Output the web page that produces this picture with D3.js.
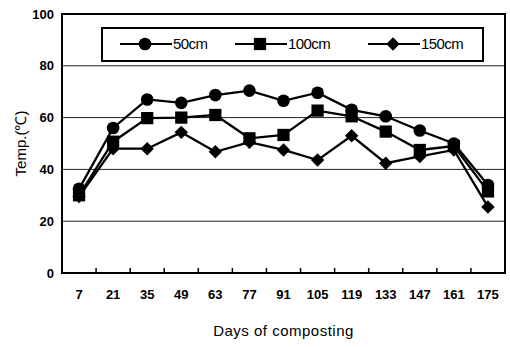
<!DOCTYPE html>
<html>
<head>
<meta charset="utf-8">
<script src="https://cdn.jsdelivr.net/npm/d3@7"></script>
<style>
  body { margin: 0; background: #fff; }
  text { font-family: "Liberation Sans", Arial, sans-serif; fill: #000; }
</style>
</head>
<body>
<svg id="chart" width="510" height="347"></svg>
<script>
// data
const days = [7, 21, 35, 49, 63, 77, 91, 105, 119, 133, 147, 161, 175];
const temp50 = [32.5, 56, 67, 65.7, 68.7, 70.4, 66.5, 69.6, 63, 60.5, 55, 50, 34];
const temp100 = [30, 50.7, 59.8, 60, 61, 52, 53.3, 62.7, 60.5, 54.6, 47.5, 49, 31.5];
const temp150 = [29.5, 48, 48, 54.3, 46.8, 50.5, 47.5, 43.6, 53, 42.4, 45, 47.5, 25.5];
const yTicks = [0, 20, 40, 60, 80, 100];

const series = [
    { name: "50cm", values: temp50, shape: "circle" },
    { name: "100cm", values: temp100, shape: "square" },
    { name: "150cm", values: temp150, shape: "diamond" }
];

const width = 510, height = 347;
const margin = { top: 14, right: 5, bottom: 74, left: 62 };

const svg = d3.select("#chart");

const x = d3.scaleBand()
    .domain(days)
    .range([margin.left, width - margin.right]);

const y = d3.scaleLinear()
    .domain([0, 100])
    .range([height - margin.bottom, margin.top]);

// gridlines
svg.append("g")
    .selectAll("line")
    .data(yTicks.filter(d => d > 0 && d < 100))
    .join("line")
    .attr("x1", margin.left)
    .attr("x2", width - margin.right)
    .attr("y1", d => y(d))
    .attr("y2", d => y(d))
    .attr("stroke", "#222")
    .attr("stroke-width", 1);

// plot frame
svg.append("rect")
    .attr("x", margin.left)
    .attr("y", margin.top)
    .attr("width", width - margin.left - margin.right)
    .attr("height", height - margin.top - margin.bottom)
    .attr("fill", "none")
    .attr("stroke", "#000")
    .attr("stroke-width", 2);

// y axis labels
const yAxis = d3.axisLeft(y).tickValues(yTicks).tickSize(0).tickPadding(8);
svg.append("g")
    .attr("transform", `translate(${margin.left},0)`)
    .call(yAxis)
    .call(g => g.select(".domain").remove())
    .selectAll("text")
    .style("font-size", "13px")
    .style("font-weight", "bold")
    .attr("font-family", null);

// x axis: ticks at band boundaries pointing up
const xAxis = d3.axisBottom(x).tickSize(0).tickPadding(17);
svg.append("g")
    .attr("transform", `translate(0,${height - margin.bottom})`)
    .call(xAxis)
    .call(g => g.select(".domain").remove())
    .selectAll("text")
    .style("font-size", "13px")
    .style("font-weight", "bold")
    .attr("font-family", null);

svg.append("g")
    .selectAll("line")
    .data(days.slice(1))
    .join("line")
    .attr("x1", d => x(d))
    .attr("x2", d => x(d))
    .attr("y1", y(0))
    .attr("y2", y(0) - 5)
    .attr("stroke", "#000")
    .attr("stroke-width", 1.5);

// axis titles
svg.append("text")
    .attr("transform", `translate(26,${(margin.top + height - margin.bottom) / 2}) rotate(-90)`)
    .attr("text-anchor", "middle")
    .style("font-size", "15px")
    .style("fill", "#000")
    .text("Temp.(℃)");

svg.append("text")
    .attr("x", (margin.left + width - margin.right) / 2)
    .attr("y", 336)
    .attr("text-anchor", "middle")
    .style("font-size", "15px")
    .style("fill", "#000")
    .style("letter-spacing", "0.5px")
    .text("Days of composting");

// markers (diamond = square turned 45 degrees)
const diamond = {
    draw(context, size) {
        const r = Math.sqrt(size / 2);
        context.moveTo(0, -r);
        context.lineTo(r, 0);
        context.lineTo(0, r);
        context.lineTo(-r, 0);
        context.closePath();
    }
};

const symbolFor = {
    circle: d3.symbol().type(d3.symbolCircle).size(125),
    square: d3.symbol().type(d3.symbolSquare).size(150),
    diamond: d3.symbol().type(diamond).size(90)
};

const line = d3.line()
    .x((d, i) => x(days[i]) + x.bandwidth() / 2)
    .y(d => y(d));

const groups = svg.append("g")
    .selectAll("g")
    .data(series)
    .join("g");

groups.append("path")
    .attr("d", d => line(d.values))
    .attr("fill", "none")
    .attr("stroke", "#000")
    .attr("stroke-width", 2.3);

groups.selectAll("path.pt")
    .data(d => d.values.map((v, i) => ({ v, i, shape: d.shape })))
    .join("path")
    .attr("class", "pt")
    .attr("transform", d => `translate(${x(days[d.i]) + x.bandwidth() / 2},${y(d.v)})`)
    .attr("d", d => symbolFor[d.shape]())
    .attr("fill", "#000");

// legend
const legend = svg.append("g");
legend.append("rect")
    .attr("x", 102)
    .attr("y", 28)
    .attr("width", 381)
    .attr("height", 33)
    .attr("fill", "#fff")
    .attr("stroke", "#000")
    .attr("stroke-width", 2);

const legendX = [120, 235, 368];
const legendItems = legend.selectAll("g")
    .data(series)
    .join("g")
    .attr("transform", (d, i) => `translate(${legendX[i]},44)`);

legendItems.append("line")
    .attr("x1", 0)
    .attr("x2", 52)
    .attr("stroke", "#000")
    .attr("stroke-width", 2);

legendItems.append("path")
    .attr("transform", "translate(25,0)")
    .attr("d", d => symbolFor[d.shape]())
    .attr("fill", "#000");

legendItems.append("text")
    .attr("x", 53)
    .attr("y", 5)
    .style("font-size", "15px")
    .style("letter-spacing", "-0.6px")
    .text(d => d.name);
</script>
</body>
</html>
